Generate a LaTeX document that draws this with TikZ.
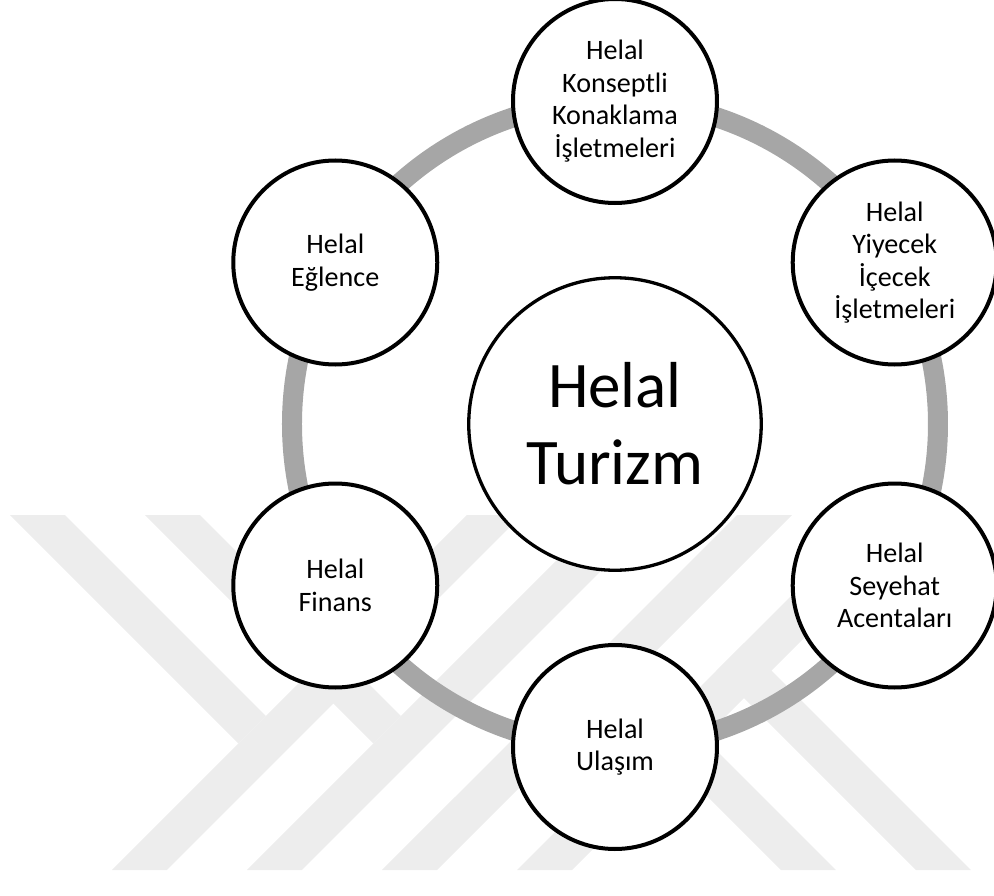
\documentclass[tikz,border=0pt]{standalone}
\usepackage{fontspec}
\setmainfont{Carlito}
\usepackage{tikz}

\definecolor{ringgray}{HTML}{A6A6A6}
\definecolor{wmgray}{HTML}{EDEDED}
\tikzset{
  wmark/.style={fill=wmgray},
  ring/.style={draw=ringgray,line width=0.4cm},
  hub/.style={circle,draw,fill=white,line width=0.066cm,minimum size=5.85cm,inner sep=0pt,align=center,font=\fontsize{37}{43.8}\selectfont},
  sat/.style={circle,draw,fill=white,line width=0.08cm,minimum size=4.08cm,inner sep=0pt,align=center,font=\fontsize{16}{18.5}\selectfont}
}

\begin{document}
\begin{tikzpicture}
\useasboundingbox (-12.3,-9.44) rectangle (7.58,8.48);

% watermark in the background
\fill[wmark] (-10.06,-8.92) -- (-8.96,-8.92) -- (-1.86,-1.82) -- (-2.96,-1.82) -- cycle;
\fill[wmark] (-7.36,-8.92) -- (-6.26,-8.92) -- (0.84,-1.82) -- (-0.26,-1.82) -- cycle;
\fill[wmark] (-4.66,-8.92) -- (-3.56,-8.92) -- (3.54,-1.82) -- (2.44,-1.82) -- cycle;
\fill[wmark] (-1.96,-8.92) -- (-0.86,-8.92) -- (6.24,-1.82) -- (5.14,-1.82) -- cycle;
\fill[wmark] (-12.10,-1.82) -- (-11.00,-1.82) -- (-6.98,-5.84) -- (-7.53,-6.39) -- cycle;
\fill[wmark] (-9.40,-1.82) -- (-8.30,-1.82) -- (-4.28,-5.84) -- (-4.83,-6.39) -- cycle;
\fill[wmark] (-0.67,-4.93) -- (-0.12,-4.38) -- (4.42,-8.92) -- (3.32,-8.92) -- cycle;
\fill[wmark] (2.03,-4.93) -- (2.58,-4.38) -- (7.12,-8.92) -- (6.02,-8.92) -- cycle;

\coordinate (mid) at (0,0);
\draw[ring] (mid) circle (6.46cm);

\node[hub] (hub) at (mid) {Helal\\Turizm};
\node[sat] (konak) at (90:6.46) {Helal\\Konseptli\\Konaklama\\İşletmeleri};
\node[sat] (yiyecek) at (30:6.46) {Helal\\Yiyecek\\İçecek\\İşletmeleri};
\node[sat] (acenta) at (-30:6.46) {Helal\\Seyehat\\Acentaları};
\node[sat] (ulasim) at (-90:6.46) {Helal\\Ulaşım};
\node[sat] (finans) at (210:6.46) {Helal\\Finans};
\node[sat] (eglence) at (150:6.46) {Helal\\Eğlence};
\end{tikzpicture}
\end{document}
